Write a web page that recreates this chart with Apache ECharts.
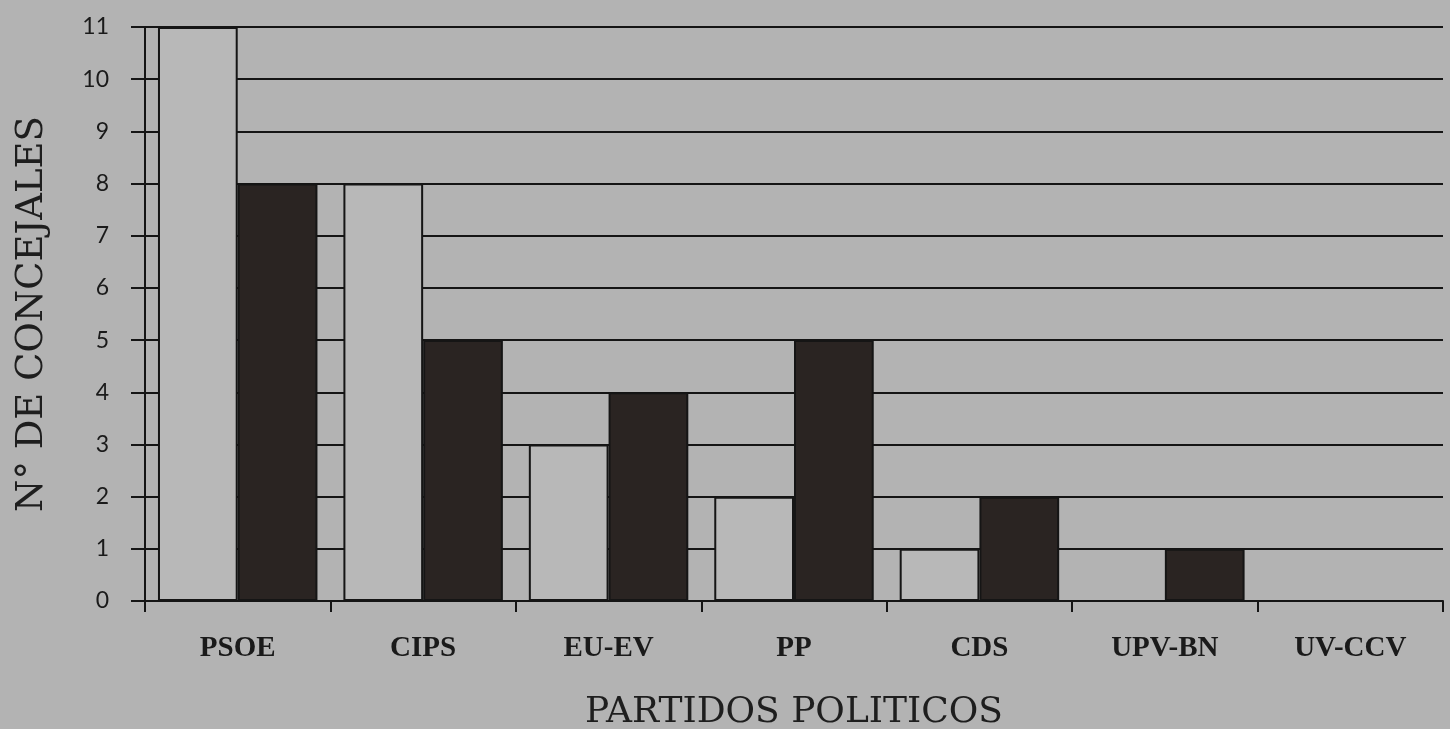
<!DOCTYPE html>
<html>
<head>
<meta charset="utf-8">
<script src="https://cdn.jsdelivr.net/npm/echarts@6/dist/echarts.min.js"></script>
<style>
	html, body { margin: 0; padding: 0; background: #b3b3b3; }
	#chart { width: 1450px; height: 729px; }
</style>
</head>
<body>
<div id="chart"></div>
<script>
	var partidos = ['PSOE', 'CIPS', 'EU-EV', 'PP', 'CDS', 'UPV-BN', 'UV-CCV'];
	var concejalesClaros = [11, 8, 3, 2, 1, 0, 0];
	var concejalesOscuros = [8, 5, 4, 5, 2, 1, 0];
	var yTicks = [0, 1, 2, 3, 4, 5, 6, 7, 8, 9, 10, 11];

	var chart = echarts.init(document.getElementById('chart'));
	chart.setOption({
		backgroundColor: '#b3b3b3',
		animation: false,
		grid: {
			left: 145,
			right: 7,
			top: 27,
			bottom: 128,
			containLabel: false,
			outerBoundsMode: 'none'
		},
		xAxis: {
			type: 'category',
			data: partidos,
			name: 'PARTIDOS POLITICOS',
			nameLocation: 'middle',
			nameGap: 94,
			nameTextStyle: {
				fontFamily: 'DejaVu Serif',
				fontSize: 36,
				color: '#1e1e1e'
			},
			axisLine: { lineStyle: { color: '#151515', width: 2 } },
			axisTick: { show: true, interval: 0, length: 11, lineStyle: { color: '#151515', width: 2 } },
			axisLabel: {
				interval: 0,
				margin: 33,
				fontFamily: 'Liberation Serif',
				fontWeight: 'bold',
				fontSize: 29,
				color: '#1a1a1a'
			}
		},
		yAxis: {
			type: 'value',
			min: 0,
			max: yTicks[yTicks.length - 1],
			interval: 1,
			name: 'N° DE CONCEJALES',
			nameLocation: 'middle',
			nameGap: 94,
			nameTextStyle: {
				fontFamily: 'DejaVu Serif',
				fontSize: 37,
				color: '#1e1e1e'
			},
			axisLine: { show: true, lineStyle: { color: '#151515', width: 2 } },
			axisTick: { show: true, length: 14, lineStyle: { color: '#151515', width: 2 } },
			axisLabel: {
				margin: 36,
				fontFamily: 'Lato',
				fontSize: 23,
				color: '#1a1a1a'
			},
			splitLine: { show: true, lineStyle: { color: '#151515', width: 2 } }
		},
		series: [
			{
				name: 'claro',
				type: 'bar',
				data: concejalesClaros,
				barGap: '0%',
				barCategoryGap: '14%',
				itemStyle: { color: '#b8b8b8', borderColor: '#151515', borderWidth: 2 }
			},
			{
				name: 'oscuro',
				type: 'bar',
				data: concejalesOscuros,
				itemStyle: { color: '#2a2422', borderColor: '#151515', borderWidth: 2 }
			}
		]
	});
</script>
</body>
</html>
